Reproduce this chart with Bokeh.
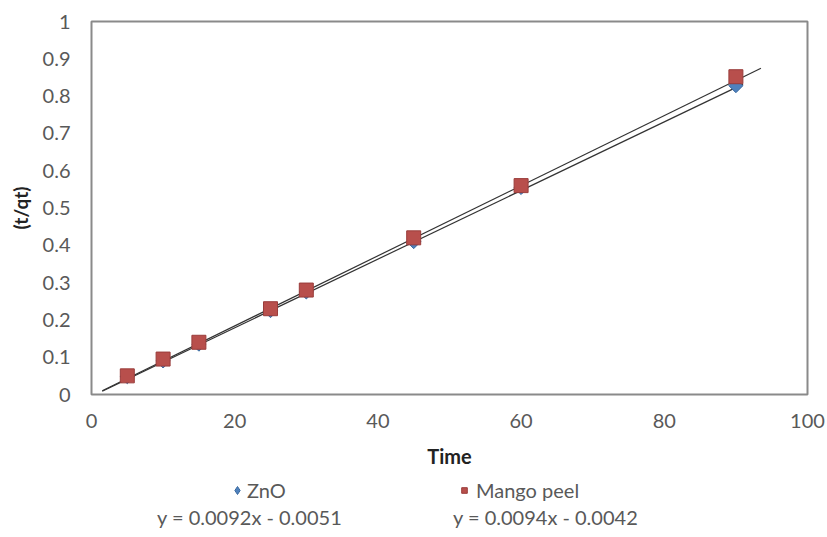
import math
from bokeh.plotting import figure
from bokeh.layouts import column
from bokeh.models import Range1d, FixedTicker, CustomJSTickFormatter, Legend, LegendItem
from bokeh.embed import file_html
from bokeh.resources import INLINE

times = [5, 10, 15, 25, 30, 45, 60, 90]
zno = [0.048, 0.090, 0.135, 0.225, 0.275, 0.410, 0.555, 0.828]
mango = [0.050, 0.095, 0.140, 0.230, 0.280, 0.420, 0.560, 0.852]
zno_fit = (0.0092, -0.0051)
mango_fit = (0.0094, -0.0042)
zno_line_x = [1.5, 91.0]
mango_line_x = [1.5, 93.5]
x_ticks = [0, 20, 40, 60, 80, 100]
y_ticks = [0, 0.1, 0.2, 0.3, 0.4, 0.5, 0.6, 0.7, 0.8, 0.9, 1.0]
zno_eq = "y = 0.0092x - 0.0051"
mango_eq = "y = 0.0094x - 0.0042"

FONT = "Lato"
TXT = "#595959"
ZNO_FILL, ZNO_LINE = "#4f81bd", "#3a6aa0"
MANGO_FILL, MANGO_LINE = "#b84f4c", "#9a3d3b"
DIAMOND_ANGLE = math.pi / 4

p = figure(width=827, height=475, output_backend="svg", toolbar_location=None,
           x_range=Range1d(0, 100), y_range=Range1d(0, 1),
           min_border_left=91, min_border_right=20, min_border_top=21, min_border_bottom=81)
p.background_fill_color = "white"
p.border_fill_color = "white"
p.outline_line_color = "#8a8a8a"
p.outline_line_width = 2
p.grid.visible = False

for ax in (p.xaxis[0], p.yaxis[0]):
    ax.axis_line_color = None
    ax.major_tick_line_color = None
    ax.minor_tick_line_color = None
    ax.major_label_text_font = FONT
    ax.major_label_text_font_size = "20px"
    ax.major_label_text_color = TXT
    ax.axis_label_text_font = FONT
    ax.axis_label_text_font_style = "bold"
    ax.axis_label_text_color = "#222222"

p.xaxis.axis_label_text_font_size = "20px"
p.yaxis.axis_label_text_font_size = "19px"
p.xaxis.ticker = FixedTicker(ticks=x_ticks)
p.yaxis.ticker = FixedTicker(ticks=y_ticks)
p.yaxis.formatter = CustomJSTickFormatter(code="return tick.toFixed(1).replace(/\\.0$/, '');")
p.xaxis.major_label_standoff = 13
p.yaxis.major_label_standoff = 15
p.xaxis.axis_label = "Time"
p.yaxis.axis_label = "(t/qt)"
p.xaxis.axis_label_standoff = 13
p.yaxis.axis_label_standoff = 8

# trend lines
zno_ly = [zno_fit[0] * x + zno_fit[1] for x in zno_line_x]
mango_ly = [mango_fit[0] * x + mango_fit[1] for x in mango_line_x]
p.line(zno_line_x, zno_ly, line_color="#333333", line_width=1.2)
p.line(mango_line_x, mango_ly, line_color="#333333", line_width=1.2)

p.scatter(times, zno, marker="square", angle=DIAMOND_ANGLE, size=10,
          fill_color=ZNO_FILL, line_color=ZNO_LINE)
p.scatter(times, mango, marker="square", size=14, fill_color=MANGO_FILL, line_color=MANGO_LINE)

# legend strip below the chart (its y range keeps the series out of view; only legend glyphs show)
q = figure(width=827, height=62, output_backend="svg", toolbar_location=None,
           x_range=Range1d(0, 100), y_range=Range1d(5, 6),
           min_border_left=91, min_border_right=20, min_border_top=0, min_border_bottom=0)
q.axis.visible = False
q.grid.visible = False
q.outline_line_color = None
q.background_fill_color = "white"
q.border_fill_color = "white"

l_zno = q.scatter(times, zno, marker="diamond", size=14,
                  fill_color=ZNO_FILL, line_color=ZNO_LINE)
l_mango = q.scatter(times, mango, marker="square", size=13, fill_color=MANGO_FILL, line_color=MANGO_LINE)
l_eq = q.scatter(times, zno, fill_alpha=0, line_alpha=0)

common = dict(background_fill_alpha=0, border_line_color=None, label_text_font=FONT,
              label_text_color=TXT, padding=0, margin=0, glyph_height=20, label_height=20)

q.add_layout(Legend(items=[LegendItem(label="ZnO", renderers=[l_zno])], location=(136, 35),
                    glyph_width=20, label_standoff=0, label_text_font_size="20px", **common), "center")
q.add_layout(Legend(items=[LegendItem(label="Mango peel", renderers=[l_mango])], location=(366, 35),
                    glyph_width=14, label_standoff=5, label_text_font_size="20px", **common), "center")
q.add_layout(Legend(items=[LegendItem(label=zno_eq, renderers=[l_eq])], location=(66, 8),
                    glyph_width=0, label_standoff=0, label_text_font_size="20px", **common), "center")
q.add_layout(Legend(items=[LegendItem(label=mango_eq, renderers=[l_eq])], location=(362, 8),
                    glyph_width=0, label_standoff=0, label_text_font_size="20px", **common), "center")

open("out.html", "w").write(file_html(column(p, q, spacing=0), INLINE))
